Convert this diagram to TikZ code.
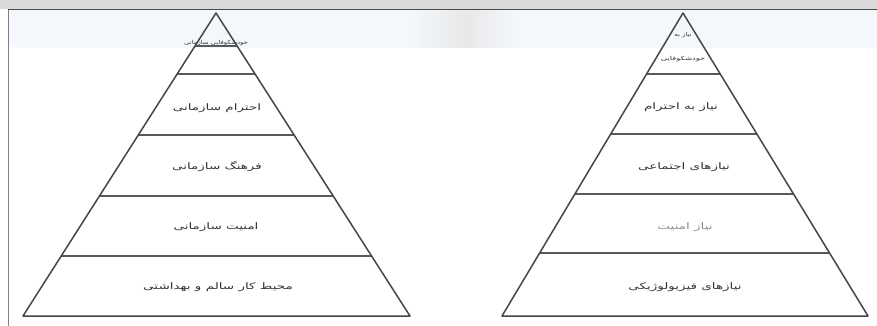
\documentclass[tikz,border=0pt]{standalone}
\usepackage{fontspec}
\newfontfamily\arabicfont[Script=Arabic]{DejaVu Sans}
\TeXXeTstate=1
\usetikzlibrary{calc}
\definecolor{bandblue}{RGB}{244,248,252}
\definecolor{bargray}{RGB}{217,217,217}
\definecolor{inkgray}{RGB}{70,70,70}
\newcommand{\fa}[1]{\scalebox{1.5}[1]{\beginR #1\endR}}
\newcommand{\fas}[1]{\scalebox{1.25}[1]{\beginR #1\endR}}
\tikzset{
  pyr/.style={draw=inkgray, line width=1.5pt, line join=round},
  layer/.style={draw=inkgray!90, line width=2pt},
  lbl/.style={font=\arabicfont\fontsize{9}{10}\selectfont, text=black!80, inner sep=0pt},
  smalllbl/.style={font=\arabicfont\fontsize{5.5}{6}\selectfont, text=black!80, inner sep=0pt},
  fadedlbl/.style={lbl, text=black!45}
}
\begin{document}
\begin{tikzpicture}[x=1pt,y=-1pt]
\useasboundingbox (0,0) rectangle (877,326);
% screenshot frame
\fill[white] (0,0) rectangle (877,326);
\fill[bargray] (0,0) rectangle (877,9.5);
\fill[bandblue] (8,10) -- (8,40) arc[start angle=180, end angle=270, radius=8pt] -- (877,48) -- (877,10) -- cycle;
\shade[left color=bandblue, right color=bandblue, middle color=black!9] (410,11) rectangle (520,48);
\draw[black!70, line width=1.2pt] (8,9.6) -- (877,9.6);
\draw[black!50, line width=0.9pt] (8,9.6) -- (8,326);

% ---------- left pyramid ----------
\coordinate (LA) at (216,13);
\coordinate (LL) at (23,316);
\coordinate (LR) at (410,316);
\foreach \t in {0.109,0.201,0.403,0.604,0.802}{
  \draw[layer] ($(LA)!\t!(LL)$) -- ($(LA)!\t!(LR)$);
}
\draw[pyr] (LA) -- (LL) -- (LR) -- cycle;
\node[smalllbl] (l5) at (216,43) {\fas{خودشکوفایی سازمانی}};
\node[lbl] (l4) at (217,108) {\fa{احترام سازمانی}};
\node[lbl] (l3) at (217,167) {\fa{فرهنگ سازمانی}};
\node[lbl] (l2) at (216,227) {\fa{امنیت سازمانی}};
\node[lbl] (l1) at (218,287) {\fa{محیط کار سالم و بهداشتی}};

% ---------- right pyramid ----------
\coordinate (RA) at (683,13);
\coordinate (RL) at (502,316);
\coordinate (RR) at (868,316);
\foreach \t in {0.201,0.400,0.597,0.792}{
  \draw[layer] ($(RA)!\t!(RL)$) -- ($(RA)!\t!(RR)$);
}
\draw[pyr] (RA) -- (RL) -- (RR) -- cycle;
\node[smalllbl] (r5a) at (683,35) {\fas{نیاز به}};
\node[smalllbl] (r5b) at (683,59) {\fa{خودشکوفایی}};
\node[lbl] (r4) at (681,107) {\fa{نیاز به احترام}};
\node[lbl] (r3) at (684,167) {\fa{نیازهای اجتماعی}};
\node[fadedlbl] (r2) at (685,227) {\fa{نیاز امنیت}};
\node[lbl] (r1) at (685,287) {\fa{نیازهای فیزیولوژیکی}};
\end{tikzpicture}
\end{document}
